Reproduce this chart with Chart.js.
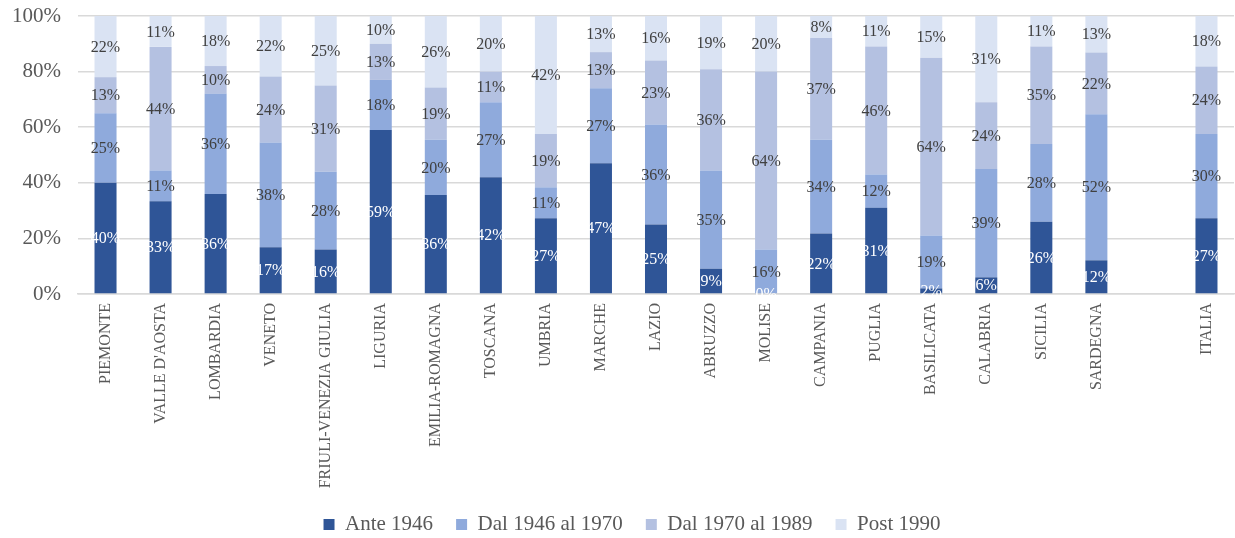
<!DOCTYPE html>
<html>
<head>
<meta charset="utf-8">
<script src="https://cdn.jsdelivr.net/npm/chart.js@4.4.1/dist/chart.umd.min.js"></script>
<style>
  html, body { margin: 0; padding: 0; background: #ffffff; }
  #wrap { width: 1235px; height: 538px; }
</style>
</head>
<body>
<div id="wrap"><canvas id="c" width="1235" height="538"></canvas></div>
<script>
// ---- data (percent labels) ----
const categories = ['PIEMONTE', "VALLE D'AOSTA", 'LOMBARDIA', 'VENETO', 'FRIULI-VENEZIA GIULIA',
  'LIGURIA', 'EMILIA-ROMAGNA', 'TOSCANA', 'UMBRIA', 'MARCHE', 'LAZIO', 'ABRUZZO', 'MOLISE',
  'CAMPANIA', 'PUGLIA', 'BASILICATA', 'CALABRIA', 'SICILIA', 'SARDEGNA', '', 'ITALIA'];
const seriesNames = ['Ante 1946', 'Dal 1946 al 1970', 'Dal 1970 al 1989', 'Post 1990'];
const ante1946   = [40, 33, 36, 17, 16, 59, 36, 42, 27, 47, 25,  9,  0, 22, 31,  2,  6, 26, 12, null, 27];
const dal1946    = [25, 11, 36, 38, 28, 18, 20, 27, 11, 27, 36, 35, 16, 34, 12, 19, 39, 28, 52, null, 30];
const dal1970    = [13, 44, 10, 24, 31, 13, 19, 11, 19, 13, 23, 36, 64, 37, 46, 64, 24, 35, 22, null, 24];
const post1990   = [22, 11, 18, 22, 25, 10, 26, 20, 42, 13, 16, 19, 20,  8, 11, 15, 31, 11, 13, null, 18];
const yTicks = [0, 20, 40, 60, 80, 100];

const seriesColors = ['#2F5597', '#8FAADC', '#B4C1E1', '#DAE3F3'];
const labelColors  = ['#FFFFFF', '#404040', '#404040', '#404040'];
const rawSeries = [ante1946, dal1946, dal1970, post1990];

// 100% stacked: normalise each category like Excel does
const totals = categories.map((_, j) => rawSeries.reduce((s, arr) => s + (arr[j] || 0), 0));
const shares = rawSeries.map(arr => arr.map((v, j) => v == null ? null : (totals[j] ? v / totals[j] * 100 : 0)));

const serif = "'Liberation Serif', 'Times New Roman', serif";

const valueLabels = {
  id: 'valueLabels',
  afterDatasetsDraw(chart) {
    const ctx = chart.ctx;
    ctx.save();
    ctx.font = '16px ' + serif;
    ctx.textAlign = 'center';
    ctx.textBaseline = 'middle';
    chart.data.datasets.forEach((ds, i) => {
      const meta = chart.getDatasetMeta(i);
      meta.data.forEach((bar, j) => {
        const raw = rawSeries[i][j];
        if (raw == null) return;
        const p = bar.getProps(['x', 'y', 'base'], true);
        ctx.fillStyle = labelColors[i];
        ctx.fillText(raw + '%', p.x, (p.y + p.base) / 2 + 1);
      });
    });
    ctx.restore();
  }
};

const legendShift = {
  id: 'legendShift',
  afterLayout(chart) {
    if (chart.legend) { chart.legend.left += 15; chart.legend.right += 15; }
  }
};

new Chart(document.getElementById('c'), {
  type: 'bar',
  data: {
    labels: categories,
    datasets: seriesNames.map((name, i) => ({
      label: name,
      data: shares[i],
      backgroundColor: seriesColors[i],
      borderWidth: 0,
      barPercentage: 0.4,
      categoryPercentage: 1.0
    }))
  },
  options: {
    responsive: false,
    devicePixelRatio: 1,
    animation: false,
    layout: { padding: { top: 16, right: 1, left: 0, bottom: -7 } },
    plugins: {
      legend: {
        position: 'bottom',
        labels: {
          boxWidth: 11,
          boxHeight: 11,
          padding: 23,
          color: '#595959',
          font: { family: serif, size: 21 }
        }
      },
      tooltip: { enabled: false }
    },
    scales: {
      x: {
        stacked: true,
        grid: { display: false, drawTicks: false },
        border: { display: true, color: '#D9D9D9', width: 1.5 },
        ticks: {
          autoSkip: false,
          maxRotation: 90,
          minRotation: 90,
          padding: 9,
          color: '#595959',
          font: { family: serif, size: 16 }
        },
        afterFit: s => { s.height = 197; }
      },
      y: {
        stacked: true,
        min: 0,
        max: 100,
        afterBuildTicks: s => { s.ticks = yTicks.map(v => ({ value: v })); },
        grid: { color: '#D9D9D9', lineWidth: 1.5, drawTicks: false },
        border: { display: false },
        ticks: {
          padding: 17,
          color: '#595959',
          font: { family: serif, size: 21 },
          callback: v => v + '%'
        },
        afterFit: s => { s.width = 78; s.paddingTop = 0; s.paddingBottom = 0; }
      }
    }
  },
  plugins: [valueLabels, legendShift]
});
</script>
</body>
</html>
